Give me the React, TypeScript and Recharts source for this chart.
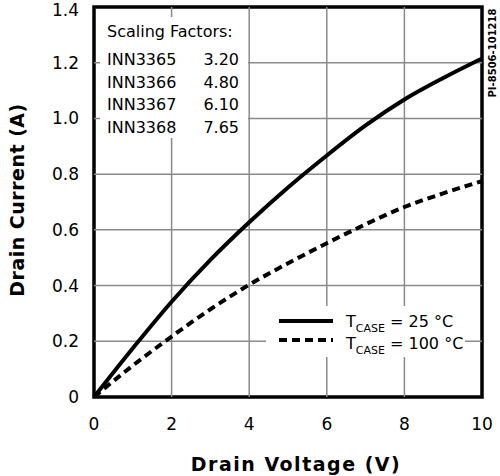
import { LineChart, Line, XAxis, YAxis, ReferenceLine, ReferenceArea } from 'recharts'

// drain voltage (V) and drain current (A)
const voltage = [0, 1, 2, 3, 4, 5, 6, 7, 8, 9, 10]
const current25 = [0, 0.175, 0.342, 0.492, 0.627, 0.752, 0.867, 0.975, 1.068, 1.145, 1.215]
const current100 = [0, 0.113, 0.217, 0.315, 0.403, 0.48, 0.552, 0.62, 0.682, 0.731, 0.775]

const xTicks = [0, 2, 4, 6, 8, 10]
const yTicks = [0, 0.2, 0.4, 0.6, 0.8, 1.0, 1.2, 1.4]

const parts = ['INN3365', 'INN3366', 'INN3367', 'INN3368']
const factors = ['3.20', '4.80', '6.10', '7.65']

const data = voltage.map((v, i) => ({ v, t25: current25[i], t100: current100[i] }))

const font = '"DejaVu Sans", Verdana, sans-serif'
const gridColor = '#8a8a8a'

export default function App() {
  return (
    <div style={{ position: 'absolute', left: 0, top: 0, width: 500, height: 476, background: '#fff' }}>
      <LineChart width={500} height={476} data={data} margin={{ top: 7, right: 18, left: 0, bottom: 0 }}>
        <XAxis
          dataKey="v"
          type="number"
          domain={[0, 10]}
          ticks={xTicks}
          height={79}
          axisLine={false}
          tickLine={false}
          tickSize={0}
          tickMargin={21}
          tick={{ fill: '#000', fontSize: 17, fontFamily: font }}
        />
        <YAxis
          type="number"
          domain={[0, 1.4]}
          ticks={yTicks}
          width={94}
          axisLine={false}
          tickLine={false}
          tickSize={0}
          tickMargin={15}
          tickFormatter={(t: number) => (t === 0 ? '0' : t.toFixed(1))}
          tick={{ fill: '#000', fontSize: 17, fontFamily: font }}
        />
        {xTicks.slice(1, -1).map((t) => (
          <ReferenceLine key={'x' + t} x={t} stroke={gridColor} strokeWidth={1.5} />
        ))}
        {yTicks.slice(1, -1).map((t) => (
          <ReferenceLine key={'y' + t} y={t} stroke={gridColor} strokeWidth={1.5} />
        ))}
        <ReferenceArea x1={0} x2={10} y1={0} y2={1.4} fill="none" fillOpacity={0} stroke="#000" strokeWidth={3.5} ifOverflow="visible" />
        <Line dataKey="t25" type="monotone" stroke="#000" strokeWidth={4} dot={false} isAnimationActive={false} />
        <Line dataKey="t100" type="monotone" stroke="#000" strokeWidth={4} strokeDasharray="8 5" dot={false} isAnimationActive={false} />
      </LineChart>

      {/* notes drawn on top: white boxes hide the grid behind them */}
      <svg
        width={500}
        height={476}
        style={{ position: 'absolute', left: 0, top: 0, pointerEvents: 'none' }}
        fontFamily={font}
        fill="#000"
      >
        <rect x={100} y={17} width={148} height={121} fill="#fff" />
        <text x={107} y={37} fontSize={16}>Scaling Factors:</text>
        {parts.map((p, i) => (
          <g key={p}>
            <text x={107} y={65 + i * 22.5} fontSize={16}>{p}</text>
            <text x={239} y={65 + i * 22.5} fontSize={16} textAnchor="end">{factors[i]}</text>
          </g>
        ))}

        <rect x={266} y={306} width={199} height={51} fill="#fff" />
        <line x1={279} x2={333} y1={321} y2={321} stroke="#000" strokeWidth={4} />
        <line x1={279} x2={333} y1={340} y2={340} stroke="#000" strokeWidth={4} strokeDasharray="8 5" />
        <text x={346} y={327} fontSize={16}>
          T<tspan fontSize={11} dy={5}>CASE</tspan><tspan dy={-5}> = 25 °C</tspan>
        </text>
        <text x={346} y={349} fontSize={16}>
          T<tspan fontSize={11} dy={5}>CASE</tspan><tspan dy={-5}> = 100 °C</tspan>
        </text>

        <text x={296} y={471} fontSize={19} fontWeight="bold" textAnchor="middle" letterSpacing={1.5}>
          Drain Voltage (V)
        </text>
        <text
          x={17}
          y={200}
          fontSize={19}
          fontWeight="bold"
          textAnchor="middle"
          dominantBaseline="central"
          letterSpacing={0.5}
          transform="rotate(-90, 17, 200)"
        >
          Drain Current (A)
        </text>
        <text
          x={492.5}
          y={53}
          fontSize={10}
          fontWeight="bold"
          textAnchor="middle"
          dominantBaseline="central"
          transform="rotate(-90, 492.5, 53)"
        >
          PI-8506-101218
        </text>
      </svg>
    </div>
  )
}
